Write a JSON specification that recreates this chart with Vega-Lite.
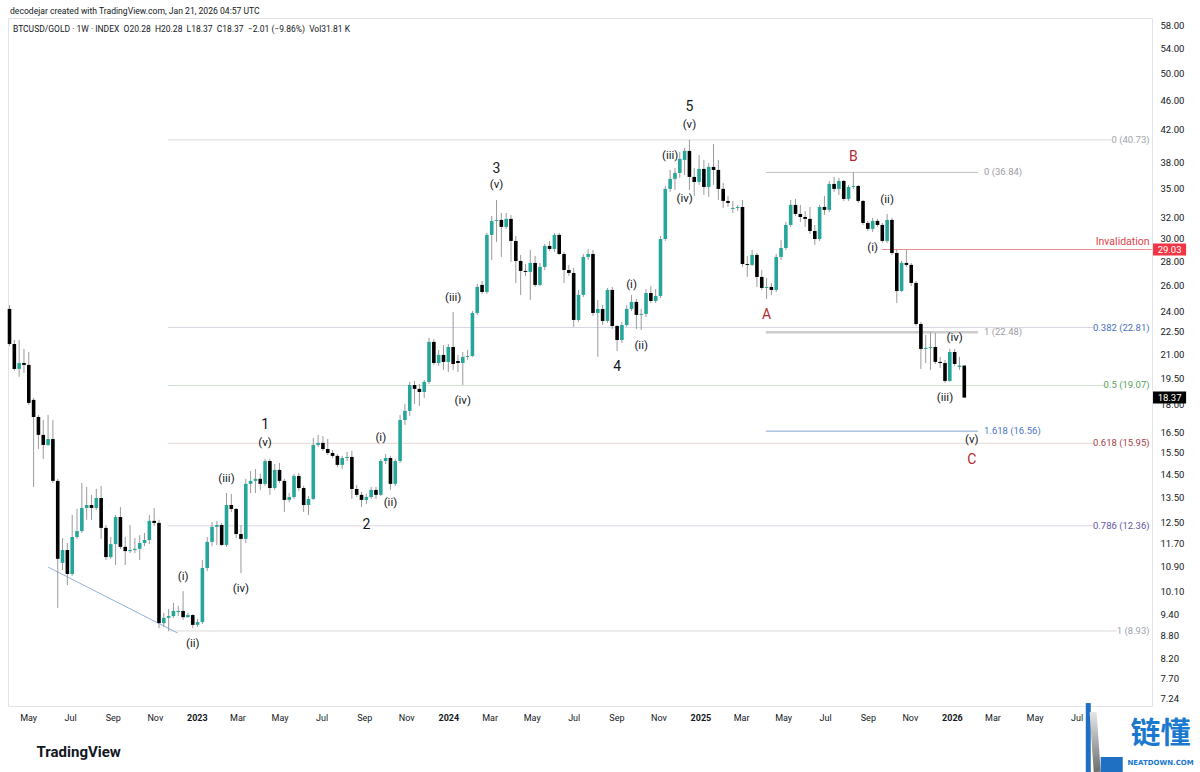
{
"$schema":"https://vega.github.io/schema/vega-lite/v6.json",
"width":1144,"height":688,
"autosize":{"type":"none"},
"padding":{"left":8,"top":18,"right":48,"bottom":66},
"background":"#ffffff",
"config":{"font":"Roboto","view":{"stroke":"#e0e3eb"}},
"title":{"text":"decodejar created with TradingView.com, Jan 21, 2026 04:57 UTC","anchor":"start","frame":"group","orient":"top","offset":5,"fontSize":8.6,"fontWeight":"normal","color":"#131722","baseline":"alphabetic","dx":2,"dy":10},
"datasets":{
"candles":[
{"d":"2022-04-04","o":24.16,"h":24.46,"l":21.55,"c":21.68},
{"d":"2022-04-11","o":21.68,"h":21.95,"l":19.95,"c":20.07},
{"d":"2022-04-18","o":20.07,"h":21.95,"l":19.58,"c":20.44},
{"d":"2022-04-25","o":20.44,"h":21.35,"l":19.82,"c":20.32},
{"d":"2022-05-02","o":20.32,"h":21.15,"l":17.96,"c":18.07},
{"d":"2022-05-09","o":18.24,"h":18.35,"l":13.94,"c":17.30},
{"d":"2022-05-16","o":17.30,"h":17.41,"l":15.67,"c":16.37},
{"d":"2022-05-23","o":16.37,"h":17.14,"l":15.20,"c":15.87},
{"d":"2022-05-30","o":15.87,"h":17.41,"l":15.82,"c":16.16},
{"d":"2022-06-06","o":16.16,"h":17.14,"l":14.11,"c":14.20},
{"d":"2022-06-13","o":14.20,"h":14.29,"l":9.59,"c":11.16},
{"d":"2022-06-20","o":11.02,"h":11.90,"l":10.78,"c":11.47},
{"d":"2022-06-27","o":11.47,"h":11.72,"l":10.29,"c":10.65},
{"d":"2022-07-04","o":10.65,"h":12.78,"l":10.59,"c":11.94},
{"d":"2022-07-11","o":11.94,"h":13.02,"l":11.87,"c":12.16},
{"d":"2022-07-18","o":12.16,"h":14.11,"l":12.09,"c":13.06},
{"d":"2022-07-25","o":13.06,"h":13.94,"l":12.59,"c":13.18},
{"d":"2022-08-01","o":13.18,"h":13.60,"l":12.59,"c":13.06},
{"d":"2022-08-08","o":13.06,"h":13.85,"l":12.98,"c":13.47},
{"d":"2022-08-15","o":13.47,"h":13.98,"l":11.87,"c":12.28},
{"d":"2022-08-22","o":12.28,"h":12.39,"l":11.12,"c":11.22},
{"d":"2022-08-29","o":11.22,"h":11.94,"l":11.16,"c":11.68},
{"d":"2022-09-05","o":11.68,"h":12.78,"l":10.95,"c":12.70},
{"d":"2022-09-12","o":12.70,"h":13.10,"l":11.51,"c":11.58},
{"d":"2022-09-19","o":11.58,"h":11.94,"l":10.95,"c":11.43},
{"d":"2022-09-26","o":11.43,"h":12.39,"l":11.36,"c":11.47},
{"d":"2022-10-03","o":11.47,"h":11.90,"l":11.36,"c":11.51},
{"d":"2022-10-10","o":11.51,"h":12.01,"l":11.12,"c":11.72},
{"d":"2022-10-17","o":11.72,"h":12.09,"l":11.61,"c":11.83},
{"d":"2022-10-24","o":11.83,"h":12.78,"l":11.68,"c":12.55},
{"d":"2022-10-31","o":12.55,"h":13.06,"l":12.35,"c":12.47},
{"d":"2022-11-07","o":12.47,"h":12.59,"l":9.01,"c":9.15},
{"d":"2022-11-14","o":9.15,"h":9.44,"l":9.04,"c":9.30},
{"d":"2022-11-21","o":9.30,"h":9.56,"l":8.93,"c":9.35},
{"d":"2022-11-28","o":9.35,"h":9.74,"l":9.30,"c":9.50},
{"d":"2022-12-05","o":9.47,"h":9.65,"l":9.35,"c":9.50},
{"d":"2022-12-12","o":9.50,"h":10.10,"l":9.24,"c":9.32},
{"d":"2022-12-19","o":9.32,"h":9.44,"l":9.30,"c":9.38},
{"d":"2022-12-26","o":9.38,"h":9.41,"l":9.01,"c":9.10},
{"d":"2023-01-02","o":9.10,"h":9.27,"l":9.04,"c":9.18},
{"d":"2023-01-09","o":9.18,"h":11.12,"l":9.12,"c":10.85},
{"d":"2023-01-16","o":10.85,"h":11.94,"l":10.75,"c":11.76},
{"d":"2023-01-23","o":11.76,"h":12.51,"l":11.61,"c":12.32},
{"d":"2023-01-30","o":12.32,"h":12.55,"l":11.65,"c":12.39},
{"d":"2023-02-06","o":12.39,"h":12.47,"l":11.61,"c":11.65},
{"d":"2023-02-13","o":11.65,"h":13.68,"l":11.58,"c":13.18},
{"d":"2023-02-20","o":13.18,"h":13.64,"l":12.90,"c":13.02},
{"d":"2023-02-27","o":13.02,"h":13.06,"l":11.90,"c":12.05},
{"d":"2023-03-06","o":12.05,"h":12.39,"l":10.68,"c":11.87},
{"d":"2023-03-13","o":11.87,"h":14.29,"l":11.72,"c":14.07},
{"d":"2023-03-20","o":14.07,"h":14.64,"l":13.68,"c":14.20},
{"d":"2023-03-27","o":14.20,"h":14.73,"l":13.68,"c":14.29},
{"d":"2023-04-03","o":14.29,"h":14.51,"l":13.81,"c":14.07},
{"d":"2023-04-10","o":14.07,"h":15.20,"l":13.98,"c":15.10},
{"d":"2023-04-17","o":15.10,"h":15.20,"l":13.60,"c":13.89},
{"d":"2023-04-24","o":13.89,"h":14.96,"l":13.81,"c":14.69},
{"d":"2023-05-01","o":14.69,"h":15.01,"l":14.11,"c":14.20},
{"d":"2023-05-08","o":14.20,"h":14.29,"l":12.90,"c":13.39},
{"d":"2023-05-15","o":13.39,"h":13.68,"l":13.30,"c":13.51},
{"d":"2023-05-22","o":13.51,"h":14.51,"l":13.43,"c":14.42},
{"d":"2023-05-29","o":14.42,"h":14.55,"l":13.76,"c":13.89},
{"d":"2023-06-05","o":13.89,"h":13.98,"l":12.90,"c":13.18},
{"d":"2023-06-12","o":13.18,"h":13.55,"l":12.78,"c":13.43},
{"d":"2023-06-19","o":13.43,"h":16.21,"l":13.39,"c":15.87},
{"d":"2023-06-26","o":15.87,"h":16.37,"l":15.77,"c":15.97},
{"d":"2023-07-03","o":15.97,"h":16.31,"l":15.58,"c":15.67},
{"d":"2023-07-10","o":15.67,"h":16.16,"l":15.38,"c":15.48},
{"d":"2023-07-17","o":15.48,"h":15.62,"l":15.24,"c":15.34},
{"d":"2023-07-24","o":15.34,"h":15.43,"l":14.82,"c":14.92},
{"d":"2023-07-31","o":14.92,"h":15.34,"l":14.73,"c":15.24},
{"d":"2023-08-07","o":15.24,"h":15.53,"l":15.10,"c":15.29},
{"d":"2023-08-14","o":15.29,"h":15.58,"l":13.43,"c":13.85},
{"d":"2023-08-21","o":13.85,"h":14.02,"l":13.51,"c":13.60},
{"d":"2023-08-28","o":13.60,"h":13.72,"l":13.10,"c":13.39},
{"d":"2023-09-04","o":13.39,"h":13.64,"l":13.22,"c":13.51},
{"d":"2023-09-11","o":13.51,"h":13.94,"l":13.43,"c":13.81},
{"d":"2023-09-18","o":13.81,"h":13.94,"l":13.43,"c":13.60},
{"d":"2023-09-25","o":13.60,"h":15.20,"l":13.55,"c":15.10},
{"d":"2023-10-02","o":15.10,"h":15.43,"l":14.96,"c":15.24},
{"d":"2023-10-09","o":15.24,"h":15.34,"l":13.81,"c":14.07},
{"d":"2023-10-16","o":14.07,"h":15.20,"l":13.98,"c":15.10},
{"d":"2023-10-23","o":15.10,"h":17.41,"l":15.01,"c":17.14},
{"d":"2023-10-30","o":17.14,"h":18.01,"l":16.88,"c":17.63},
{"d":"2023-11-06","o":17.63,"h":19.28,"l":17.36,"c":19.10},
{"d":"2023-11-13","o":19.10,"h":19.34,"l":18.01,"c":18.87},
{"d":"2023-11-20","o":18.87,"h":19.16,"l":17.90,"c":18.69},
{"d":"2023-11-27","o":18.69,"h":19.40,"l":18.35,"c":19.28},
{"d":"2023-12-04","o":19.28,"h":22.09,"l":19.16,"c":21.82},
{"d":"2023-12-11","o":21.82,"h":22.02,"l":20.32,"c":20.44},
{"d":"2023-12-18","o":20.44,"h":21.28,"l":20.26,"c":20.96},
{"d":"2023-12-25","o":20.96,"h":21.61,"l":20.01,"c":20.51},
{"d":"2024-01-01","o":20.51,"h":21.68,"l":19.88,"c":21.48},
{"d":"2024-01-08","o":21.48,"h":23.94,"l":20.01,"c":20.38},
{"d":"2024-01-15","o":20.57,"h":20.96,"l":19.88,"c":20.44},
{"d":"2024-01-22","o":20.44,"h":21.15,"l":19.10,"c":20.83},
{"d":"2024-01-29","o":20.83,"h":21.28,"l":20.64,"c":20.89},
{"d":"2024-02-05","o":20.89,"h":24.01,"l":20.83,"c":23.86},
{"d":"2024-02-12","o":23.86,"h":26.10,"l":23.72,"c":25.86},
{"d":"2024-02-19","o":26.02,"h":26.34,"l":25.31,"c":25.46},
{"d":"2024-02-26","o":25.46,"h":30.56,"l":25.31,"c":30.37},
{"d":"2024-03-04","o":30.37,"h":32.20,"l":28.11,"c":31.71},
{"d":"2024-03-11","o":31.71,"h":33.84,"l":29.72,"c":31.81},
{"d":"2024-03-18","o":31.81,"h":32.50,"l":28.37,"c":31.13},
{"d":"2024-03-25","o":31.13,"h":32.50,"l":30.94,"c":31.91},
{"d":"2024-04-01","o":31.91,"h":32.30,"l":27.94,"c":29.81},
{"d":"2024-04-08","o":29.81,"h":30.27,"l":26.18,"c":28.02},
{"d":"2024-04-15","o":28.02,"h":28.55,"l":25.23,"c":27.17},
{"d":"2024-04-22","o":27.17,"h":27.76,"l":26.75,"c":27.09},
{"d":"2024-04-29","o":27.09,"h":28.99,"l":24.84,"c":27.85},
{"d":"2024-05-06","o":27.85,"h":28.46,"l":25.86,"c":26.02},
{"d":"2024-05-13","o":26.02,"h":27.85,"l":25.94,"c":27.51},
{"d":"2024-05-20","o":27.51,"h":29.54,"l":27.25,"c":29.35},
{"d":"2024-05-27","o":29.35,"h":29.81,"l":28.90,"c":29.08},
{"d":"2024-06-03","o":29.08,"h":30.56,"l":28.81,"c":30.37},
{"d":"2024-06-10","o":30.37,"h":30.56,"l":28.55,"c":28.63},
{"d":"2024-06-17","o":28.63,"h":28.81,"l":26.18,"c":27.25},
{"d":"2024-06-24","o":27.25,"h":27.68,"l":26.75,"c":27.00},
{"d":"2024-07-01","o":27.00,"h":27.42,"l":22.85,"c":23.35},
{"d":"2024-07-08","o":23.35,"h":25.62,"l":23.21,"c":25.23},
{"d":"2024-07-15","o":25.23,"h":28.63,"l":25.07,"c":28.37},
{"d":"2024-07-22","o":28.37,"h":29.08,"l":28.11,"c":28.63},
{"d":"2024-07-29","o":28.63,"h":28.99,"l":23.64,"c":23.86},
{"d":"2024-08-05","o":23.86,"h":24.84,"l":20.83,"c":24.16},
{"d":"2024-08-12","o":24.16,"h":24.46,"l":22.99,"c":23.28},
{"d":"2024-08-19","o":23.28,"h":25.78,"l":23.14,"c":25.62},
{"d":"2024-08-26","o":25.62,"h":25.86,"l":22.71,"c":22.92},
{"d":"2024-09-02","o":22.92,"h":22.99,"l":21.22,"c":21.95},
{"d":"2024-09-09","o":21.95,"h":23.21,"l":21.75,"c":22.99},
{"d":"2024-09-16","o":22.99,"h":24.46,"l":22.85,"c":24.16},
{"d":"2024-09-23","o":24.16,"h":25.23,"l":24.01,"c":24.69},
{"d":"2024-09-30","o":24.69,"h":24.92,"l":22.71,"c":23.72},
{"d":"2024-10-07","o":23.72,"h":24.16,"l":22.64,"c":23.79},
{"d":"2024-10-14","o":23.79,"h":25.70,"l":23.57,"c":25.38},
{"d":"2024-10-21","o":25.38,"h":25.94,"l":24.61,"c":24.76},
{"d":"2024-10-28","o":24.76,"h":25.70,"l":24.61,"c":25.15},
{"d":"2024-11-04","o":25.15,"h":30.27,"l":24.99,"c":29.99},
{"d":"2024-11-11","o":29.99,"h":35.33,"l":29.81,"c":35.01},
{"d":"2024-11-18","o":35.01,"h":37.12,"l":34.68,"c":36.11},
{"d":"2024-11-25","o":36.11,"h":37.35,"l":34.90,"c":36.78},
{"d":"2024-12-02","o":36.78,"h":39.25,"l":36.22,"c":38.41},
{"d":"2024-12-09","o":38.29,"h":39.74,"l":36.55,"c":39.37},
{"d":"2024-12-16","o":39.37,"h":40.73,"l":34.90,"c":36.33},
{"d":"2024-12-23","o":36.33,"h":37.35,"l":34.26,"c":35.77},
{"d":"2024-12-30","o":35.77,"h":38.88,"l":35.44,"c":37.24},
{"d":"2025-01-06","o":37.24,"h":38.29,"l":34.36,"c":35.22},
{"d":"2025-01-13","o":35.22,"h":37.94,"l":34.15,"c":37.47},
{"d":"2025-01-20","o":37.47,"h":40.23,"l":35.44,"c":37.12},
{"d":"2025-01-27","o":37.12,"h":38.29,"l":33.84,"c":35.01},
{"d":"2025-02-03","o":35.01,"h":35.66,"l":33.01,"c":33.73},
{"d":"2025-02-10","o":33.73,"h":34.26,"l":33.11,"c":33.52},
{"d":"2025-02-17","o":32.91,"h":33.73,"l":32.50,"c":33.01},
{"d":"2025-02-24","o":33.01,"h":33.32,"l":32.70,"c":33.11},
{"d":"2025-03-03","o":33.11,"h":33.84,"l":27.51,"c":27.76},
{"d":"2025-03-10","o":27.76,"h":28.46,"l":26.67,"c":27.68},
{"d":"2025-03-17","o":27.68,"h":28.99,"l":27.59,"c":28.55},
{"d":"2025-03-24","o":28.55,"h":28.72,"l":25.86,"c":26.67},
{"d":"2025-03-31","o":26.67,"h":27.25,"l":25.62,"c":25.78},
{"d":"2025-04-07","o":25.78,"h":26.59,"l":24.92,"c":25.86},
{"d":"2025-04-14","o":25.86,"h":26.18,"l":25.23,"c":25.62},
{"d":"2025-04-21","o":25.62,"h":28.63,"l":25.46,"c":28.37},
{"d":"2025-04-28","o":28.37,"h":29.90,"l":28.11,"c":29.17},
{"d":"2025-05-05","o":29.17,"h":31.61,"l":28.99,"c":31.32},
{"d":"2025-05-12","o":31.32,"h":33.84,"l":31.13,"c":33.32},
{"d":"2025-05-19","o":33.32,"h":33.94,"l":32.20,"c":32.40},
{"d":"2025-05-26","o":32.40,"h":33.32,"l":31.61,"c":32.10},
{"d":"2025-06-02","o":32.10,"h":32.70,"l":31.13,"c":31.91},
{"d":"2025-06-09","o":31.91,"h":33.11,"l":30.46,"c":30.74},
{"d":"2025-06-16","o":30.74,"h":31.32,"l":29.44,"c":29.99},
{"d":"2025-06-23","o":29.99,"h":33.32,"l":29.81,"c":33.11},
{"d":"2025-06-30","o":33.11,"h":34.26,"l":32.30,"c":32.81},
{"d":"2025-07-07","o":32.81,"h":35.88,"l":32.60,"c":35.55},
{"d":"2025-07-14","o":35.55,"h":36.33,"l":34.68,"c":35.01},
{"d":"2025-07-21","o":35.01,"h":36.22,"l":34.36,"c":35.88},
{"d":"2025-07-28","o":35.88,"h":35.99,"l":33.73,"c":33.94},
{"d":"2025-08-04","o":33.94,"h":35.44,"l":33.73,"c":35.22},
{"d":"2025-08-11","o":35.22,"h":36.84,"l":35.01,"c":35.33},
{"d":"2025-08-18","o":35.33,"h":35.44,"l":33.52,"c":33.73},
{"d":"2025-08-25","o":33.73,"h":33.84,"l":31.32,"c":31.51},
{"d":"2025-09-01","o":31.51,"h":31.71,"l":30.74,"c":30.94},
{"d":"2025-09-08","o":30.94,"h":32.00,"l":30.65,"c":31.71},
{"d":"2025-09-15","o":31.71,"h":31.91,"l":31.13,"c":31.32},
{"d":"2025-09-22","o":31.32,"h":31.51,"l":29.63,"c":29.81},
{"d":"2025-09-29","o":29.81,"h":32.40,"l":29.63,"c":31.81},
{"d":"2025-10-06","o":31.81,"h":32.00,"l":28.55,"c":28.72},
{"d":"2025-10-13","o":28.72,"h":29.08,"l":24.61,"c":25.54},
{"d":"2025-10-20","o":25.54,"h":28.02,"l":25.46,"c":27.85},
{"d":"2025-10-27","o":27.85,"h":28.99,"l":27.51,"c":27.68},
{"d":"2025-11-03","o":27.68,"h":27.85,"l":25.94,"c":26.18},
{"d":"2025-11-10","o":26.18,"h":26.34,"l":22.92,"c":23.06},
{"d":"2025-11-17","o":23.06,"h":23.21,"l":20.07,"c":21.35},
{"d":"2025-11-24","o":21.35,"h":22.29,"l":20.44,"c":21.42},
{"d":"2025-12-01","o":21.42,"h":22.50,"l":20.01,"c":21.48},
{"d":"2025-12-08","o":21.48,"h":22.43,"l":20.38,"c":20.51},
{"d":"2025-12-15","o":20.51,"h":20.83,"l":20.13,"c":20.44},
{"d":"2025-12-22","o":20.44,"h":20.64,"l":19.22,"c":19.34},
{"d":"2025-12-29","o":19.34,"h":21.35,"l":19.28,"c":21.15},
{"d":"2026-01-05","o":21.15,"h":21.35,"l":20.26,"c":20.38},
{"d":"2026-01-12","o":20.19,"h":20.83,"l":20.01,"c":20.28},
{"d":"2026-01-19","o":20.28,"h":20.28,"l":18.37,"c":18.37}
],
"levels":[
{"g":"m0","p":40.73,"d0":"2022-11-20","d1":"2026-08-21","t":"0 (40.73)"},
{"g":"m382","p":22.81,"d0":"2022-11-20","d1":"2026-07-27","t":"0.382 (22.81)"},
{"g":"m5","p":19.07,"d0":"2022-11-20","d1":"2026-08-11","t":"0.5 (19.07)"},
{"g":"m618","p":15.95,"d0":"2022-11-20","d1":"2026-07-27","t":"0.618 (15.95)"},
{"g":"m786","p":12.36,"d0":"2022-11-20","d1":"2026-07-27","t":"0.786 (12.36)"},
{"g":"m1","p":8.93,"d0":"2022-11-20","d1":"2026-08-28","t":"1 (8.93)"},
{"g":"ab0","p":36.84,"d0":"2025-04-06","d1":"2026-02-08","t":"0 (36.84)"},
{"g":"ab1","p":22.48,"d0":"2025-04-06","d1":"2026-02-08","t":"1 (22.48)"},
{"g":"ab1618","p":16.56,"d0":"2025-04-06","d1":"2026-02-08","t":"1.618 (16.56)"},
{"g":"inv","p":29.03,"d0":"2025-09-21","d1":"2026-10-18","t":"Invalidation"}
],
"trend":[{"d":"2022-05-30","p":10.88,"d2":"2022-12-04","p2":8.875}],
"waves":[
{"d":"2023-04-10","p":16.88,"t":"1","k":"n"},
{"d":"2023-04-10","p":15.97,"t":"(v)","k":"s"},
{"d":"2023-02-13","p":14.29,"t":"(iii)","k":"s"},
{"d":"2022-12-12","p":10.55,"t":"(i)","k":"s"},
{"d":"2022-12-26","p":8.58,"t":"(ii)","k":"s"},
{"d":"2023-03-06","p":10.17,"t":"(iv)","k":"s"},
{"d":"2023-09-04","p":12.39,"t":"2","k":"n"},
{"d":"2023-09-25","p":16.21,"t":"(i)","k":"s"},
{"d":"2023-10-09","p":13.26,"t":"(ii)","k":"s"},
{"d":"2024-03-11","p":37.24,"t":"3","k":"n"},
{"d":"2024-03-11","p":35.44,"t":"(v)","k":"s"},
{"d":"2024-01-08","p":25.00,"t":"(iii)","k":"s"},
{"d":"2024-01-22","p":18.18,"t":"(iv)","k":"s"},
{"d":"2024-09-02","p":20.19,"t":"4","k":"n"},
{"d":"2024-09-23","p":26.02,"t":"(i)","k":"s"},
{"d":"2024-10-07","p":21.55,"t":"(ii)","k":"s"},
{"d":"2024-12-16","p":45.10,"t":"5","k":"n"},
{"d":"2024-12-16","p":42.66,"t":"(v)","k":"s"},
{"d":"2024-11-18","p":38.77,"t":"(iii)","k":"s"},
{"d":"2024-12-09","p":33.94,"t":"(iv)","k":"s"},
{"d":"2025-04-07","p":23.71,"t":"A","k":"r"},
{"d":"2025-08-11","p":38.64,"t":"B","k":"r"},
{"d":"2025-09-08","p":29.17,"t":"(i)","k":"s"},
{"d":"2025-09-29","p":33.84,"t":"(ii)","k":"s"},
{"d":"2025-12-22","p":18.35,"t":"(iii)","k":"s"},
{"d":"2026-01-05","p":22.09,"t":"(iv)","k":"s"},
{"d":"2026-01-30","p":16.12,"t":"(v)","k":"s"},
{"d":"2026-01-30","p":15.15,"t":"C","k":"r"}
],
"tags":[{"p":29.03,"t":"29.03","g":"inv"},{"p":18.37,"t":"18.37","g":"last"}],
"one":[{}]
},
"layer":[
{"data":{"name":"levels"},
 "mark":{"type":"rule"},
 "encoding":{
  "x":{"field":"d0","type":"temporal",
   "scale":{"type":"utc","padding":0,"nice":false,"domain":[{"year":2022,"month":4,"date":1,"hours":19,"minutes":44,"utc":true},{"year":2026,"month":10,"date":18,"hours":12,"utc":true}]},
   "axis":{"orient":"bottom",
    "values":[{"year":2022,"month":5,"date":1,"utc":true},{"year":2022,"month":7,"date":1,"utc":true},{"year":2022,"month":9,"date":1,"utc":true},{"year":2022,"month":11,"date":1,"utc":true},
     {"year":2023,"month":1,"date":1,"utc":true},{"year":2023,"month":3,"date":1,"utc":true},{"year":2023,"month":5,"date":1,"utc":true},{"year":2023,"month":7,"date":1,"utc":true},{"year":2023,"month":9,"date":1,"utc":true},{"year":2023,"month":11,"date":1,"utc":true},
     {"year":2024,"month":1,"date":1,"utc":true},{"year":2024,"month":3,"date":1,"utc":true},{"year":2024,"month":5,"date":1,"utc":true},{"year":2024,"month":7,"date":1,"utc":true},{"year":2024,"month":9,"date":1,"utc":true},{"year":2024,"month":11,"date":1,"utc":true},
     {"year":2025,"month":1,"date":1,"utc":true},{"year":2025,"month":3,"date":1,"utc":true},{"year":2025,"month":5,"date":1,"utc":true},{"year":2025,"month":7,"date":1,"utc":true},{"year":2025,"month":9,"date":1,"utc":true},{"year":2025,"month":11,"date":1,"utc":true},
     {"year":2026,"month":1,"date":1,"utc":true},{"year":2026,"month":3,"date":1,"utc":true},{"year":2026,"month":5,"date":1,"utc":true},{"year":2026,"month":7,"date":1,"utc":true}],
    "labelExpr":"utcmonth(datum.value) == 0 ? utcFormat(datum.value, '%Y') : utcFormat(datum.value, '%b')",
    "labelFontWeight":{"condition":{"test":"utcmonth(datum.value) == 0","value":"bold"},"value":"normal"},
    "labelFontSize":9,"labelColor":"#131722","labelPadding":7,"ticks":false,"domain":false,"grid":false,"labelFlush":false,"labelOverlap":false,
    "title":"TradingView","titleAnchor":"start","titleAlign":"left","titleX":28,"titleY":50,"titleBaseline":"alphabetic","titleFontSize":15,"titleFontWeight":"bold","titleColor":"#131722"}},
  "x2":{"field":"d1"},
  "y":{"field":"p","type":"quantitative",
   "scale":{"type":"log","domain":[7.082,59.37],"nice":false,"zero":false,"padding":0},
   "axis":{"orient":"right","values":[7.24,7.7,8.2,8.8,9.4,10.1,10.9,11.7,12.5,13.5,14.5,15.5,16.5,18,19.5,21,22.5,24,26,28,30,32,35,38,42,46,50,54,58],
    "format":".2f","labelFontSize":9.5,"labelColor":"#131722","labelPadding":8,"ticks":false,"domain":false,"grid":false,"labelOverlap":false,"labelFlush":false,"title":null}},
  "color":{"field":"g","type":"nominal","legend":null,
   "scale":{"domain":["m0","m382","m5","m618","m786","m1","ab0","ab1","ab1618","inv"],
            "range":["#d9d9dc","#d4d9e3","#cfe5d0","#ead6d6","#dcd8e8","#d9d9dc","#bdbdbd","#cccccc","#84a3ca","#e8908f"]}},
  "strokeWidth":{"condition":{"test":"datum.g == 'ab1'","value":2.5},"value":1}
 }},
{"data":{"name":"levels"},
 "transform":[{"filter":"substring(datum.g,0,1) == 'm'"}],
 "mark":{"type":"text","align":"right","baseline":"middle","fontSize":9.5},
 "encoding":{
  "x":{"datum":{"year":2026,"month":10,"date":15,"utc":true},"type":"temporal"},
  "y":{"field":"p","type":"quantitative"},
  "text":{"field":"t"},
  "color":{"field":"g","type":"nominal","legend":null,
   "scale":{"domain":["m0","m382","m5","m618","m786","m1"],"range":["#a0a3ab","#4870b8","#56a05b","#a23e48","#6656a2","#a0a3ab"]}}
 }},
{"data":{"name":"levels"},
 "transform":[{"filter":"substring(datum.g,0,2) == 'ab'"}],
 "mark":{"type":"text","align":"left","baseline":"middle","fontSize":9.5,"dx":6},
 "encoding":{
  "x":{"field":"d1","type":"temporal"},
  "y":{"field":"p","type":"quantitative"},
  "text":{"field":"t"},
  "color":{"field":"g","type":"nominal","legend":null,
   "scale":{"domain":["ab0","ab1","ab1618"],"range":["#9a9ca3","#9a9ca3","#4a74c4"]}}
 }},
{"data":{"name":"levels"},
 "transform":[{"filter":"datum.g == 'inv'"}],
 "mark":{"type":"text","align":"right","baseline":"middle","fontSize":10.5,"dy":-8,"color":"#e0424c"},
 "encoding":{
  "x":{"datum":{"year":2026,"month":10,"date":15,"utc":true},"type":"temporal"},
  "y":{"field":"p","type":"quantitative"},
  "text":{"field":"t"}
 }},
{"data":{"name":"trend"},
 "mark":{"type":"rule","color":"#93b0d8","strokeWidth":1},
 "encoding":{
  "x":{"field":"d","type":"temporal"},"x2":{"field":"d2"},
  "y":{"field":"p","type":"quantitative"},"y2":{"field":"p2"}
 }},
{"data":{"name":"candles"},
 "mark":{"type":"rule","color":"#9a9a9a","strokeWidth":1},
 "encoding":{
  "x":{"field":"d","type":"temporal"},
  "y":{"field":"l","type":"quantitative"},"y2":{"field":"h"}
 }},
{"data":{"name":"candles"},
 "mark":{"type":"bar","width":3.6},
 "encoding":{
  "x":{"field":"d","type":"temporal"},
  "y":{"field":"o","type":"quantitative"},"y2":{"field":"c"},
  "color":{"condition":{"test":"datum.c >= datum.o","value":"#26a69a"},"value":"#000000"}
 }},
{"data":{"name":"waves"},
 "transform":[{"filter":"datum.k == 's'"}],
 "mark":{"type":"text","align":"center","baseline":"middle","fontSize":11.5,"color":"#131722"},
 "encoding":{
  "x":{"field":"d","type":"temporal"},
  "y":{"field":"p","type":"quantitative"},
  "text":{"field":"t"}
 }},
{"data":{"name":"waves"},
 "transform":[{"filter":"datum.k == 'n'"}],
 "mark":{"type":"text","align":"center","baseline":"middle","fontSize":14,"color":"#131722"},
 "encoding":{
  "x":{"field":"d","type":"temporal"},
  "y":{"field":"p","type":"quantitative"},
  "text":{"field":"t"}
 }},
{"data":{"name":"waves"},
 "transform":[{"filter":"datum.k == 'r'"}],
 "mark":{"type":"text","align":"center","baseline":"middle","fontSize":14,"color":"#b2282e"},
 "encoding":{
  "x":{"field":"d","type":"temporal"},
  "y":{"field":"p","type":"quantitative"},
  "text":{"field":"t"}
 }},
{"data":{"name":"one"},
 "mark":{"type":"text","align":"left","baseline":"middle","fontSize":8.5,"color":"#131722"},
 "encoding":{
  "x":{"datum":{"year":2022,"month":4,"date":9,"utc":true},"type":"temporal"},
  "y":{"datum":57.4,"type":"quantitative"},
  "text":{"value":"BTCUSD/GOLD · 1W · INDEX\u00a0\u00a0O20.28\u00a0\u00a0H20.28\u00a0\u00a0L18.37\u00a0\u00a0C18.37\u00a0\u00a0−2.01 (−9.86%)\u00a0\u00a0Vol31.81\u00a0K"}
 }},
{"data":{"name":"tags"},
 "mark":{"type":"rule","strokeWidth":12,"strokeCap":"butt"},
 "encoding":{
  "x":{"datum":{"year":2026,"month":10,"date":20,"utc":true},"type":"temporal"},
  "x2":{"datum":{"year":2026,"month":12,"date":7,"utc":true}},
  "y":{"field":"p","type":"quantitative"},
  "color":{"condition":{"test":"datum.g == 'inv'","value":"#f23645"},"value":"#000000"}
 }},
{"data":{"name":"tags"},
 "mark":{"type":"text","align":"center","baseline":"middle","fontSize":9.5,"color":"#ffffff"},
 "encoding":{
  "x":{"datum":{"year":2026,"month":11,"date":13,"utc":true},"type":"temporal"},
  "y":{"field":"p","type":"quantitative"},
  "text":{"field":"t"}
 }},
{"data":{"name":"one"},
 "mark":{"type":"rule","strokeWidth":5,"color":"#1f6fc2","strokeCap":"butt"},
 "encoding":{
  "x":{"datum":{"year":2026,"month":7,"date":18,"utc":true},"type":"temporal"},
  "y":{"datum":7.147,"type":"quantitative"},"y2":{"datum":5.70}
 }},
{"data":{"name":"one"},
 "mark":{"type":"rule","strokeWidth":7,"strokeCap":"butt","color":{"gradient":"linear","x1":0,"y1":0,"x2":0,"y2":1,"stops":[{"offset":0,"color":"#e6e6e6"},{"offset":1,"color":"#6e6e6e"}]}},
 "encoding":{
  "x":{"datum":{"year":2026,"month":7,"date":25,"utc":true},"type":"temporal"},
  "x2":{"datum":{"year":2026,"month":7,"date":31,"utc":true}},
  "y":{"datum":6.953,"type":"quantitative"},"y2":{"datum":5.777}
 }},
{"data":{"name":"one"},
 "mark":{"type":"rule","strokeWidth":15,"color":"#1f6fc2","strokeCap":"butt"},
 "encoding":{
  "x":{"datum":{"year":2026,"month":8,"date":5,"utc":true},"type":"temporal"},
  "x2":{"datum":{"year":2026,"month":9,"date":6,"utc":true}},
  "y":{"datum":5.911,"type":"quantitative"}
 }},
{"data":{"name":"one"},
 "mark":{"type":"text","align":"center","baseline":"middle","fontSize":30,"font":"Noto Sans CJK SC","fontWeight":"bold","color":"#1a78cf"},
 "encoding":{
  "x":{"datum":{"year":2026,"month":10,"date":31,"utc":true},"type":"temporal"},
  "y":{"datum":6.495,"type":"quantitative"},
  "text":{"value":"链懂"}
 }},
{"data":{"name":"one"},
 "mark":{"type":"text","align":"center","baseline":"middle","fontSize":7,"font":"DejaVu Sans","fontWeight":"bold","color":"#1a78cf"},
 "encoding":{
  "x":{"datum":{"year":2026,"month":10,"date":31,"utc":true},"type":"temporal"},
  "y":{"datum":5.938,"type":"quantitative"},
  "text":{"value":"NEATDOWN.COM"}
 }}
],
"resolve":{"scale":{"color":"independent"}}
}
